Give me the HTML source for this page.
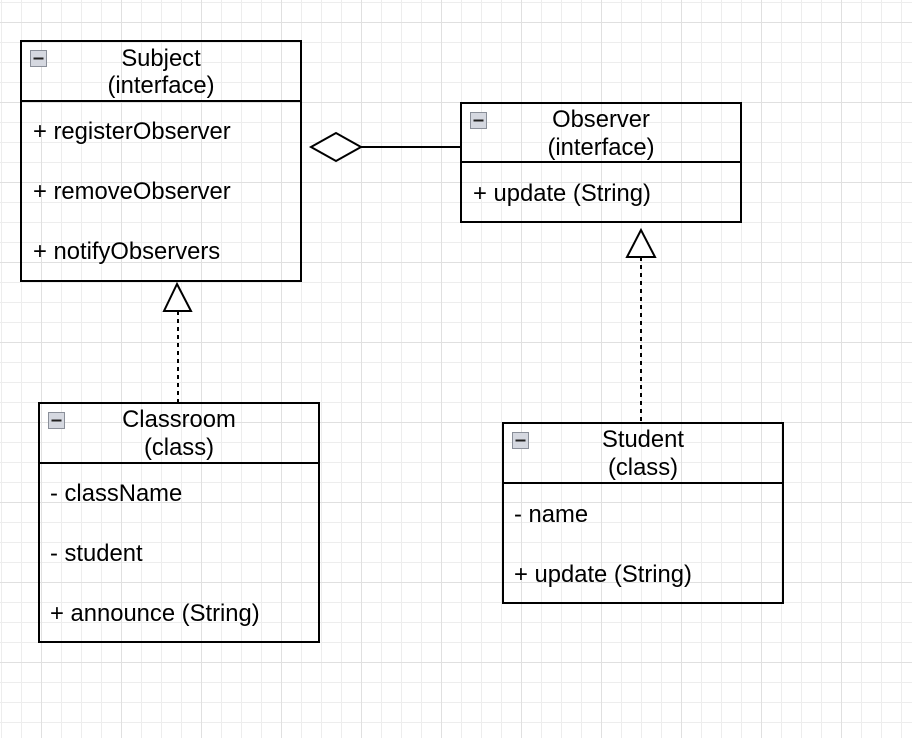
<!DOCTYPE html>
<html><head><meta charset="utf-8"><style>
html,body{margin:0;padding:0;background:#fff;}
svg text{font-family:"Liberation Sans",Arial,sans-serif;font-size:23.8px;fill:#000;}
</style></head><body>
<svg width="912" height="738" xmlns="http://www.w3.org/2000/svg">
<defs>
<pattern id="minor" x="1" y="2" width="20" height="20" patternUnits="userSpaceOnUse">
<path d="M0 0.5H20M0.5 0V20" stroke="#ededed" stroke-width="1" fill="none"/>
</pattern>
<pattern id="major" x="41" y="22" width="80" height="80" patternUnits="userSpaceOnUse">
<path d="M0 0.5H80M0.5 0V80" stroke="#e0e0e0" stroke-width="1" fill="none"/>
</pattern>
<g id="icon"><rect x="0.5" y="0.5" width="16" height="16" fill="#d5d8e0" stroke="#8a8f99"/><rect x="3.5" y="7.5" width="10" height="2" fill="#222"/></g>
</defs>
<rect width="912" height="738" fill="#fff"/>
<rect width="912" height="738" fill="url(#minor)"/>
<rect width="912" height="738" fill="url(#major)"/>

<g fill="none" stroke="#000" stroke-width="2">
<rect x="21" y="41" width="280" height="240"/><line x1="21" y1="101" x2="301" y2="101"/>
<rect x="461" y="103" width="280" height="119"/><line x1="461" y1="162" x2="741" y2="162"/>
<rect x="39" y="403" width="280" height="239"/><line x1="39" y1="463" x2="319" y2="463"/>
<rect x="503" y="423" width="280" height="180"/><line x1="503" y1="483" x2="783" y2="483"/>
<polygon points="311,147 336,133 361,147 336,161" fill="#fff"/>
<line x1="361" y1="147" x2="461" y2="147"/>
<polygon points="177,284 164,311 191,311" fill="#fff"/>
<line x1="178" y1="311" x2="178" y2="403" stroke-dasharray="4,4"/>
<polygon points="641,230 627,257 655,257" fill="#fff"/>
<line x1="641" y1="257" x2="641" y2="423" stroke-dasharray="4,4"/>
</g>
<use href="#icon" x="30" y="50"/>
<use href="#icon" x="470" y="112"/>
<use href="#icon" x="48" y="412"/>
<use href="#icon" x="512" y="432"/>

<text x="161" y="66" text-anchor="middle">Subject</text>
<text x="161" y="93" text-anchor="middle">(interface)</text>
<text x="33" y="139">+ registerObserver</text>
<text x="33" y="199">+ removeObserver</text>
<text x="33" y="259">+ notifyObservers</text>

<text x="601" y="127" text-anchor="middle">Observer</text>
<text x="601" y="155" text-anchor="middle">(interface)</text>
<text x="473" y="201">+ update (String)</text>

<text x="179" y="427" text-anchor="middle">Classroom</text>
<text x="179" y="455" text-anchor="middle">(class)</text>
<text x="50" y="501">- className</text>
<text x="50" y="561">- student</text>
<text x="50" y="621">+ announce (String)</text>

<text x="643" y="447" text-anchor="middle">Student</text>
<text x="643" y="475" text-anchor="middle">(class)</text>
<text x="514" y="522">- name</text>
<text x="514" y="582">+ update (String)</text>
</svg>
</body></html>
